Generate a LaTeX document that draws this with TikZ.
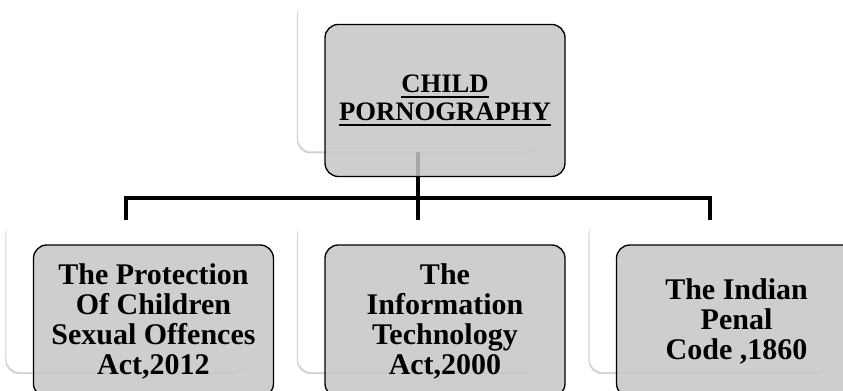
\documentclass[tikz,border=0pt]{standalone}
\usepackage{fontspec}
\setmainfont{Liberation Serif}
\usetikzlibrary{positioning,shadows,calc}
\newcommand\ulline[1]{\setbox0=\hbox{#1}\rlap{\rule[-4.5pt]{\wd0}{1.5pt}}\box0}

\begin{document}
\begin{tikzpicture}[x=0.75pt,y=0.75pt,node distance=38.25pt,
  back/.style={fill=white,rounded corners=10pt,minimum width=180pt,minimum height=114pt,inner sep=0pt,
    drop shadow={shadow xshift=-0.8pt,shadow yshift=-1.5pt,opacity=0.35}},
  front/.style={draw=black,line width=1pt,fill=gray!45,fill opacity=0.85,text opacity=1,rounded corners=10pt,
    minimum width=180pt,minimum height=114pt,inner sep=0pt,align=center,font=\bfseries\fontsize{22.5}{22.5}\selectfont},
  link/.style={line width=3pt}]
\useasboundingbox (0,0) rectangle (843,390);
\clip (0,0) rectangle (843,390);
% back cards
\node[back] (itaback) at (418,94) {};
\node[back,left=of itaback] (pocsoback) {};
\node[back,right=of itaback] (ipcback) {};
\node[back,above=51pt of itaback] (cpback) {};
% connectors
\coordinate (split) at ($(cpback.south)+(0,-46)$);
\draw[link] (cpback.south) -- (split);
\draw[link] (pocsoback.north) |- (split) -| (ipcback.north);
\draw[link] (split) -- (split -| itaback.north) -- (itaback.north);
% front cards
\node[front,font=\bfseries\fontsize{20}{21}\selectfont] (cp) at ($(cpback)+(27,-25)$) {\ulline{CHILD}\\\ulline{PORNOGRAPHY}};
\node[front] (pocso) at ($(pocsoback)+(27,-25)$) {The Protection\\Of Children\\Sexual Offences\\Act,2012};
\node[front] (ita) at ($(itaback)+(27,-25)$) {The\\Information\\Technology\\Act,2000};
\node[front] (ipc) at ($(ipcback)+(27,-25)$) {The Indian\\Penal\\Code ,1860};
\end{tikzpicture}
\end{document}
